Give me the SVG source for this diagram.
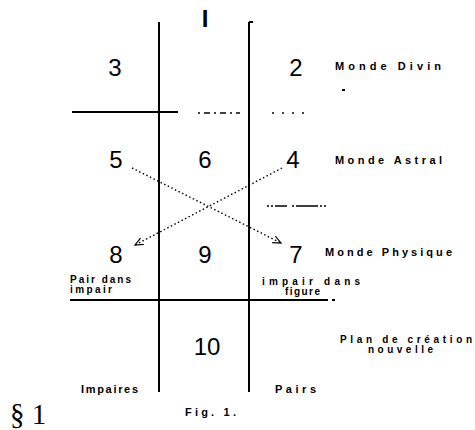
<svg xmlns="http://www.w3.org/2000/svg" width="475" height="430" viewBox="0 0 475 430">
<style>
.ln{stroke:#000;stroke-width:2;fill:none}
.dot{stroke:#000;stroke-width:1.4;fill:none;stroke-dasharray:1.5 2.5}
.num{font-family:"Liberation Sans",Arial,sans-serif;font-size:24px;fill:#000;text-anchor:middle}
.lab{font-family:"Liberation Sans",Arial,sans-serif;font-size:11px;font-weight:bold;fill:#000}
.sm{font-family:"Liberation Sans",Arial,sans-serif;font-size:10px;font-weight:bold;fill:#000}
</style>
<defs>
<marker id="ah" viewBox="0 0 10 10" refX="9" refY="5" markerWidth="9" markerHeight="9" orient="auto" markerUnits="userSpaceOnUse">
<path d="M0,1 L9,5 L0,9" fill="none" stroke="#000" stroke-width="1.3"/>
</marker>
</defs>
<g id="grid">
<line class="ln" x1="159" y1="22" x2="159" y2="392"/>
<line class="ln" x1="249" y1="22" x2="249" y2="392"/>
<line class="ln" x1="249" y1="22" x2="253" y2="22"/>
<line class="ln" x1="72" y1="112" x2="178" y2="112"/>
<line x1="198" y1="113" x2="240" y2="113" stroke="#000" stroke-width="1.5" stroke-dasharray="2 4 6 4"/>
<line x1="272" y1="113" x2="305" y2="113" stroke="#000" stroke-width="1.5" stroke-dasharray="2 8"/>
<line x1="267" y1="206" x2="338" y2="206" stroke="#000" stroke-width="1.5" stroke-dasharray="2 2 2 2 12 5 2 2 22"/>
<line class="ln" x1="70" y1="300" x2="328" y2="300"/>
<line class="ln" x1="332" y1="300" x2="335" y2="300"/>
<line class="ln" x1="342" y1="90" x2="345" y2="90"/>
</g>
<g id="connectors">
<line class="dot" x1="132" y1="168" x2="281" y2="243" marker-end="url(#ah)"/>
<line class="dot" x1="282" y1="168" x2="135" y2="245" marker-end="url(#ah)"/>
</g>
<g id="n1"><text x="205" y="27" class="num" font-weight="bold" font-size="19">I</text></g>
<g id="n3"><text x="115" y="76" class="num">3</text></g>
<g id="n2"><text x="296" y="76" class="num">2</text></g>
<g id="n5"><text x="116" y="168" class="num">5</text></g>
<g id="n6"><text x="205" y="168" class="num">6</text></g>
<g id="n4"><text x="293" y="168" class="num">4</text></g>
<g id="n8"><text x="116" y="263" class="num">8</text></g>
<g id="n9"><text x="205" y="263" class="num">9</text></g>
<g id="n7"><text x="296" y="263" class="num">7</text></g>
<g id="n10"><text x="207" y="355" class="num">10</text></g>
<g id="labels">
<text x="335" y="70" class="lab" textLength="106" lengthAdjust="spacing">Monde Divin</text>
<text x="335" y="164" class="lab" textLength="107" lengthAdjust="spacing">Monde Astral</text>
<text x="325" y="256" class="lab" textLength="127" lengthAdjust="spacing">Monde Physique</text>
<text x="70" y="283" class="sm" textLength="61" lengthAdjust="spacing">Pair dans</text>
<text x="70" y="293" class="sm" textLength="42" lengthAdjust="spacing">impair</text>
<text x="262" y="285" class="sm" textLength="98" lengthAdjust="spacing">impair dans</text>
<text x="285" y="295" class="sm" textLength="35" lengthAdjust="spacing">figure</text>
<text x="340" y="343" class="sm" textLength="132" lengthAdjust="spacing">Plan de création</text>
<text x="368" y="353" class="sm" textLength="65" lengthAdjust="spacing">nouvelle</text>
<text x="81" y="393" class="lab" font-size="12" textLength="57" lengthAdjust="spacing">Impaires</text>
<text x="275" y="393" class="lab" font-size="12" textLength="41" lengthAdjust="spacing">Pairs</text>
<text x="185" y="416" class="lab" font-size="13" textLength="51" lengthAdjust="spacing">Fig. 1.</text>
<text x="10" y="424" font-family="Liberation Serif,'Times New Roman',serif" font-size="29" fill="#000">§ 1</text>
</g>
</svg>
